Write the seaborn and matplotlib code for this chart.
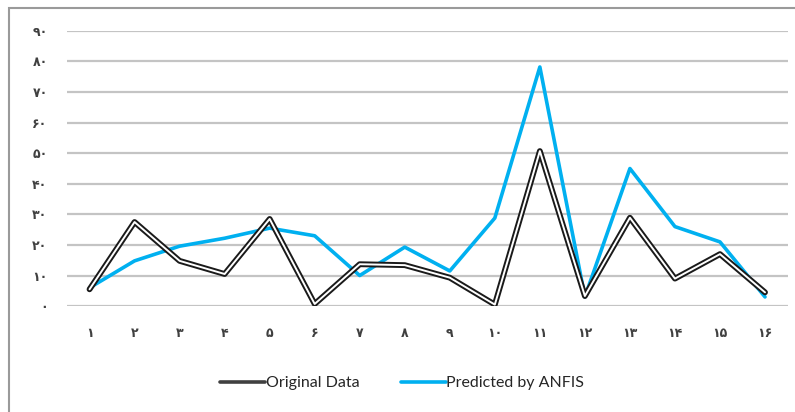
import numpy as np
import pandas as pd
import matplotlib
matplotlib.use('Agg')
import matplotlib.pyplot as plt
import matplotlib.patches as mpatches
from matplotlib.lines import Line2D
import seaborn as sns

# data
samples = list(range(1, 17))
original = [5.5, 27.5, 14.8, 10.5, 28.5, 0.7, 13.7, 13.4, 9.3, 0.5, 50.7, 3.3, 28.9, 9.0, 17.0, 4.5]
predicted = [6.0, 14.8, 19.6, 22.2, 25.5, 23.0, 10.0, 19.3, 11.5, 28.8, 78.2, 3.0, 45.0, 26.0, 21.0, 3.0]
persian_digits = '۰۱۲۳۴۵۶۷۸۹'
x_labels = [''.join(persian_digits[int(c)] for c in str(n)) for n in samples]
y_values = list(range(0, 100, 10))
y_labels = [''.join(persian_digits[int(c)] for c in str(v)) for v in y_values]

df = pd.DataFrame({'sample': samples, 'Original Data': original,
                   'Predicted by ANFIS': predicted})

sns.set_style('white')
plt.rcParams['font.family'] = ['DejaVu Sans']

blue = '#00B0F0'
fig = plt.figure(figsize=(7.95, 4.12), dpi=100)
ax = fig.add_axes([0.0843, 0.257, 0.9063, 0.668])

# outer frame (only top and left visible in the reference)
fig.patches.append(mpatches.Rectangle((9 / 795, -0.1), 1.2, (412 - 8) / 412 + 0.1,
                                      transform=fig.transFigure, fill=False,
                                      edgecolor='#9a9a9a', linewidth=1.5, zorder=0))

for v in y_values:
    ax.axhline(v, color='#c4c4c4', linewidth=1.6, zorder=0)

sns.lineplot(data=df, x='sample', y='Predicted by ANFIS', ax=ax, color=blue,
             linewidth=2.6, zorder=2)
sns.lineplot(data=df, x='sample', y='Original Data', ax=ax, color='#1a1a1a',
             linewidth=4.2, zorder=3)
sns.lineplot(data=df, x='sample', y='Original Data', ax=ax, color='white',
             linewidth=1.4, zorder=4)

ax.set_xlim(0.5, 16.5)
ax.set_ylim(0, 90)
ax.set_xticks(samples)
ax.set_xticklabels(x_labels, fontsize=9, fontweight='bold', color='#404040')
ax.set_yticks(y_values)
ax.set_yticklabels(y_labels, fontsize=9, fontweight='bold', color='#404040')
ax.tick_params(axis='both', length=0)
ax.tick_params(axis='x', pad=15)
ax.tick_params(axis='y', pad=14)
ax.set_xlabel('')
ax.set_ylabel('')
for s in ax.spines.values():
    s.set_visible(False)
ax.patch.set_alpha(0)

handles = [Line2D([], [], color='#404040', linewidth=2.6),
           Line2D([], [], color=blue, linewidth=2.6)]
fig.legend(handles, ['Original Data', 'Predicted by ANFIS'], loc='center',
           bbox_to_anchor=(0.506, 0.07), ncol=2, frameon=False,
           prop={'family': 'Lato', 'size': 11.5}, handlelength=2.8,
           handletextpad=0.05, columnspacing=2.6)

fig.savefig('out.png', dpi=100)
